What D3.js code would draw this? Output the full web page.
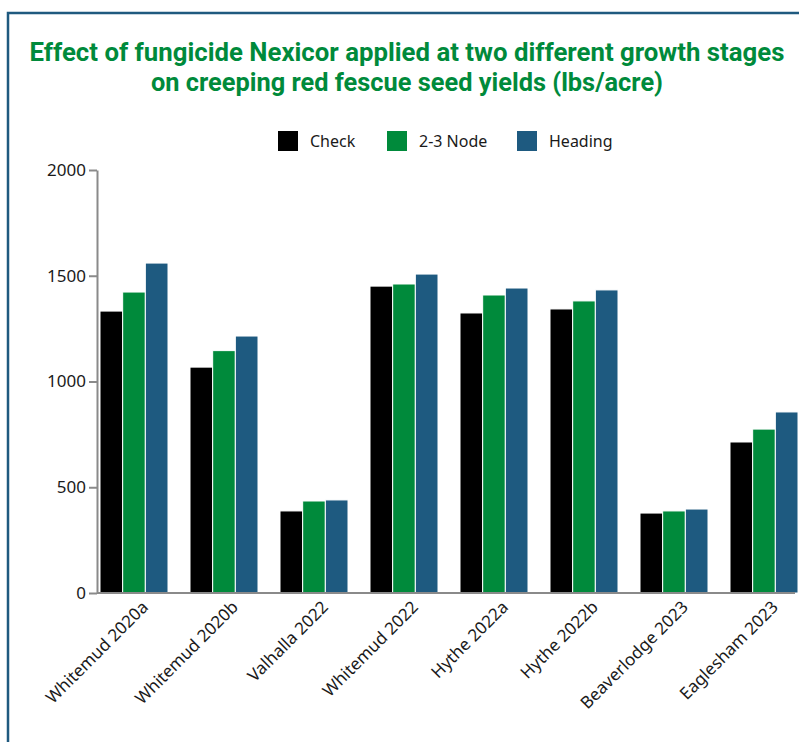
<!DOCTYPE html>
<html>
<head>
<meta charset="utf-8">
<script src="https://cdn.jsdelivr.net/npm/d3@7"></script>
<style>
  html, body { margin: 0; padding: 0; background: #fff; }
  svg { display: block; }
</style>
</head>
<body>
<svg id="chart" width="799" height="742"></svg>
<script>
const titleLines = [
  "Effect of fungicide Nexicor applied at two different growth stages",
  "on creeping red fescue seed yields (lbs/acre)"
];
const sites = ["Whitemud 2020a", "Whitemud 2020b", "Valhalla 2022", "Whitemud 2022",
               "Hythe 2022a", "Hythe 2022b", "Beaverlodge 2023", "Eaglesham 2023"];
const seriesNames = ["Check", "2-3 Node", "Heading"];
const checkValues   = [1333, 1068, 388, 1451, 1324, 1343, 378, 714];
const nodeValues    = [1423, 1146, 435, 1461, 1409, 1381, 388, 775];
const headingValues = [1560, 1215, 440, 1508, 1442, 1433, 397, 856];
const yTicks = [0, 500, 1000, 1500, 2000];
const seriesColors = ["#000000", "#008a3b", "#1e5a80"];

const seriesValues = [checkValues, nodeValues, headingValues];
const svg = d3.select("#chart");

// frame
svg.append("rect")
  .attr("x", 8).attr("y", 13).attr("width", 820).attr("height", 760)
  .attr("fill", "none").attr("stroke", "#1f5a7f").attr("stroke-width", 2.5);

// title
const titleWidths = [755, 512];
const title = svg.append("text")
  .attr("text-anchor", "middle")
  .attr("fill", "#008a3b")
  .attr("font-family", "'Liberation Sans Narrow', 'Roboto', sans-serif")
  .attr("font-weight", "bold")
  .attr("font-size", 26);
title.selectAll("tspan").data(titleLines).join("tspan")
  .attr("x", 407)
  .attr("y", (d, i) => 61 + i * 30)
  .attr("textLength", (d, i) => titleWidths[i])
  .attr("lengthAdjust", "spacingAndGlyphs")
  .text(d => d);

const yScale = d3.scaleLinear().domain([0, 2000]).range([593, 170]);
const x0 = d3.scaleBand().domain(sites).range([97, 801]).paddingInner(22 / 90).paddingOuter(3 / 90);
const x1 = d3.scaleBand().domain(seriesNames).range([0, x0.bandwidth()]);

// bars
const groups = svg.append("g").selectAll("g").data(sites).join("g")
  .attr("transform", d => `translate(${x0(d)},0)`);
groups.selectAll("rect")
  .data((d, i) => seriesNames.map((s, j) => ({ s, v: seriesValues[j][i], c: seriesColors[j] })))
  .join("rect")
  .attr("x", d => x1(d.s))
  .attr("y", d => yScale(d.v))
  .attr("width", x1.bandwidth())
  .attr("height", d => yScale(0) - yScale(d.v))
  .attr("fill", d => d.c)
  .attr("stroke", "#fff")
  .attr("stroke-width", 1);

// y axis
const yAxis = svg.append("g")
  .attr("transform", "translate(97,0)")
  .call(d3.axisLeft(yScale).tickValues(yTicks).tickFormat(d3.format("d"))
    .tickSize(8).tickSizeOuter(0).tickPadding(3));
yAxis.select(".domain").attr("stroke", "#8a8a8a").attr("stroke-width", 2);
yAxis.selectAll(".tick line").attr("stroke", "#8a8a8a").attr("stroke-width", 2);
yAxis.selectAll(".tick text")
  .attr("fill", "#1a1a1a")
  .attr("font-family", "'Noto Sans', sans-serif")
  .attr("font-size", 17);

// x axis
const xAxis = svg.append("g")
  .attr("transform", "translate(0,593)")
  .call(d3.axisBottom(x0).tickSize(0).tickSizeOuter(0).tickPadding(0));
xAxis.select(".domain").attr("stroke", "#8a8a8a").attr("stroke-width", 2)
  .attr("d", "M97,0H795");
xAxis.selectAll(".tick text")
  .attr("fill", "#1a1a1a")
  .attr("font-family", "'Noto Sans', sans-serif")
  .attr("font-size", 17)
  .attr("text-anchor", "end")
  .attr("transform", "translate(11,11) rotate(-45)")
  .attr("dy", "0.35em")
  .attr("y", 0);

// legend
const legend = svg.append("g").selectAll("g").data(seriesNames).join("g")
  .attr("transform", (d, i) => `translate(${[278, 387, 517][i]},131)`);
legend.append("rect").attr("width", 20).attr("height", 20)
  .attr("fill", (d, i) => seriesColors[i]);
legend.append("text")
  .attr("x", 32).attr("y", 10).attr("dy", "0.35em")
  .attr("fill", "#1a1a1a")
  .attr("font-family", "'Noto Sans', sans-serif")
  .attr("font-size", 16)
  .text(d => d);
</script>
</body>
</html>
